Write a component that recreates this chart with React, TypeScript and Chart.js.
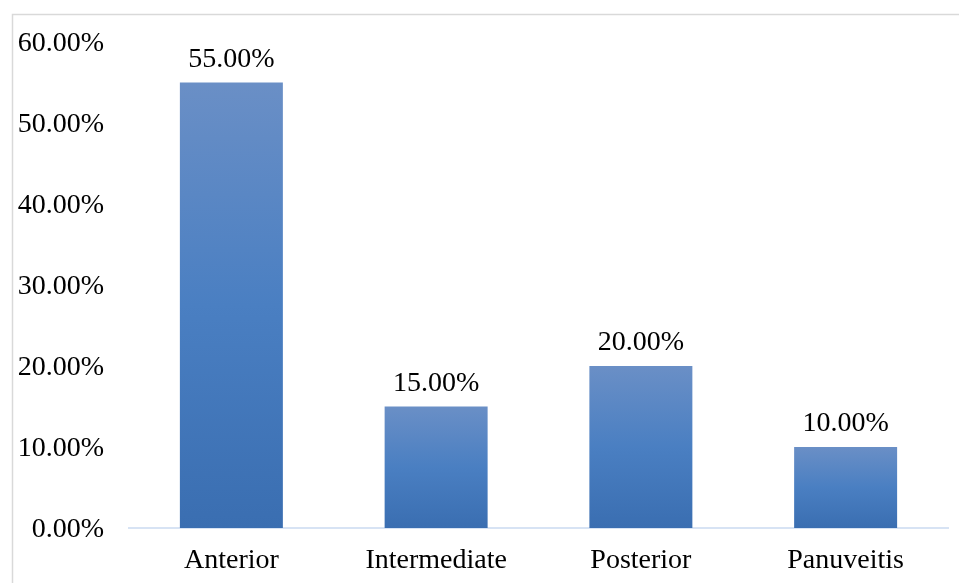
import React, { useEffect, useRef } from "react";
import { Chart, registerables } from "chart.js";

Chart.register(...registerables);

const categories = ["Anterior", "Intermediate", "Posterior", "Panuveitis"];
const values = [55, 15, 20, 10];
const yTicks = [0, 10, 20, 30, 40, 50, 60];

const FONT = "'Times New Roman', 'Liberation Serif', serif";

const framePlugin = {
  id: "frame",
  beforeDraw(chart: any) {
    const ctx = chart.ctx;
    ctx.save();
    ctx.fillStyle = "#ffffff";
    ctx.fillRect(0, 0, chart.width, chart.height);
    ctx.strokeStyle = "#d9d9d9";
    ctx.lineWidth = 1.5;
    ctx.beginPath();
    ctx.moveTo(12.5, chart.height);
    ctx.lineTo(12.5, 14.5);
    ctx.lineTo(chart.width, 14.5);
    ctx.stroke();
    ctx.restore();
  },
};

const labelPlugin = {
  id: "valueLabels",
  afterDatasetsDraw(chart: any) {
    const ctx = chart.ctx;
    const meta = chart.getDatasetMeta(0);
    ctx.save();
    ctx.fillStyle = "#000000";
    ctx.font = `28px ${FONT}`;
    ctx.textAlign = "center";
    ctx.textBaseline = "alphabetic";
    meta.data.forEach((bar: any, i: number) => {
      ctx.fillText(values[i].toFixed(2) + "%", bar.x, bar.y - 16);
    });
    ctx.restore();
  },
};

export default function App() {
  const ref = useRef<HTMLCanvasElement>(null);
  useEffect(() => {
    if (!ref.current) return;
    const chart = new Chart(ref.current, {
      type: "bar",
      data: {
        labels: categories,
        datasets: [
          {
            data: values,
            backgroundColor: (context: any) => {
              const ch = context.chart;
              const y = ch.scales?.y;
              if (!y || context.parsed == null) return "#4a7fc1";
              const top = y.getPixelForValue(context.parsed.y);
              const bottom = y.getPixelForValue(0);
              if (!isFinite(top) || !isFinite(bottom) || top === bottom) return "#4a7fc1";
              const g = ch.ctx.createLinearGradient(0, top, 0, bottom);
              g.addColorStop(0, "#6a8fc6");
              g.addColorStop(0.5, "#4a7fc2");
              g.addColorStop(1, "#3a6eb1");
              return g;
            },
            borderWidth: 0,
            categoryPercentage: 1,
            barPercentage: 0.503,
          },
        ],
      },
      options: {
        animation: false,
        responsive: false,
        devicePixelRatio: 1,
        layout: { padding: { top: 42, right: 11, bottom: 0, left: 0 } },
        plugins: { legend: { display: false }, tooltip: { enabled: false } },
        scales: {
          x: {
            afterFit: (scale: any) => {
              scale.height = 55;
            },
            grid: { display: false, drawTicks: false, tickLength: 0 },
            border: { display: true, color: "#d7e3f4", width: 2 },
            ticks: { color: "#000", font: { family: FONT, size: 28 }, padding: 16, maxRotation: 0 },
          },
          y: {
            min: 0,
            max: 60,
            afterFit: (scale: any) => {
              scale.width = 129;
            },
            afterBuildTicks: (scale: any) => {
              scale.ticks = yTicks.map((v) => ({ value: v }));
            },
            grid: { display: false, drawTicks: false, tickLength: 0 },
            border: { display: false },
            ticks: {
              color: "#000",
              font: { family: FONT, size: 28 },
              padding: 25,
              labelOffset: 2,
              callback: (v: any) => Number(v).toFixed(2) + "%",
            },
          },
        },
      },
      plugins: [framePlugin, labelPlugin],
    });
    return () => chart.destroy();
  }, []);
  return (
    <div style={{ position: "fixed", left: 0, top: 0, width: 959, height: 583, background: "#fff" }}>
      <canvas ref={ref} width={959} height={583} style={{ width: 959, height: 583, display: "block" }} />
    </div>
  );
}
